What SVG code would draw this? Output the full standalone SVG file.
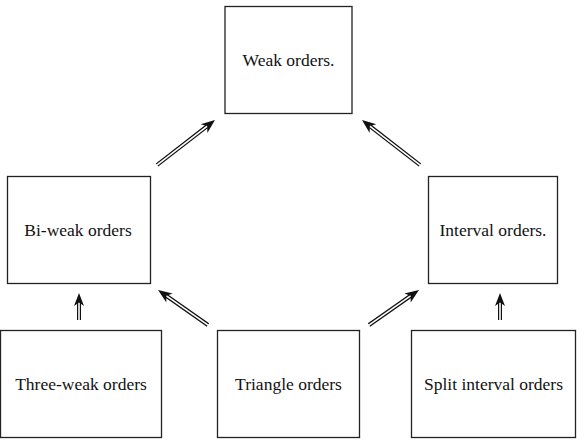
<svg xmlns="http://www.w3.org/2000/svg" width="586" height="445" viewBox="0 0 586 445">
<defs>
<style>
.box{fill:#fff;stroke:#222;stroke-width:1.3}
.lbl{font-size:17.5px;fill:#111;text-anchor:middle}
.sh{stroke:#111;stroke-width:4;fill:none}
.in{stroke:#fff;stroke-width:1.6;fill:none}
.hd{fill:#111}
</style>
</defs>
<rect width="586" height="445" fill="#fff"/>
<g font-family="'Liberation Serif', 'Times New Roman', Times, serif">
<g id="weak"><rect class="box" x="225" y="6.5" width="127" height="107"/><text class="lbl" x="288.5" y="66">Weak orders.</text></g>
<g id="biweak"><rect class="box" x="7.5" y="176.5" width="143" height="107"/><text class="lbl" x="78" y="236">Bi-weak orders</text></g>
<g id="interval"><rect class="box" x="428.5" y="176.5" width="129" height="107"/><text class="lbl" x="493" y="236">Interval orders.</text></g>
<g id="threeweak"><rect class="box" x="0.5" y="330.5" width="161" height="107"/><text class="lbl" x="81" y="390">Three-weak orders</text></g>
<g id="triangle"><rect class="box" x="217.5" y="330.5" width="142" height="107"/><text class="lbl" x="288.5" y="390">Triangle orders</text></g>
<g id="split"><rect class="box" x="411.5" y="330.5" width="164" height="107"/><text class="lbl" x="493.5" y="390">Split interval orders</text></g>
</g>
<g id="connectors">
<g transform="translate(157,165) rotate(-37.8)"><path class="sh" d="M0,0H63"/><path class="in" d="M-1,0H64"/><path class="hd" d="M73.4,0L59.5,-5.5L63.5,0L59.5,5.5Z"/></g>
<g transform="translate(420,165) rotate(-142.2)"><path class="sh" d="M0,0H63"/><path class="in" d="M-1,0H64"/><path class="hd" d="M73.4,0L59.5,-5.5L63.5,0L59.5,5.5Z"/></g>
<g transform="translate(208,325) rotate(-145)"><path class="sh" d="M0,0H51"/><path class="in" d="M-1,0H52"/><path class="hd" d="M61,0L47,-5.5L51,0L47,5.5Z"/></g>
<g transform="translate(369,325) rotate(-35)"><path class="sh" d="M0,0H51"/><path class="in" d="M-1,0H52"/><path class="hd" d="M61,0L47,-5.5L51,0L47,5.5Z"/></g>
<g transform="translate(79,320) rotate(-90)"><path class="sh" d="M0,0H18"/><path class="in" d="M-1,0H19"/><path class="hd" d="M27,0L14,-5L17.5,0L14,5Z"/></g>
<g transform="translate(500,320) rotate(-90)"><path class="sh" d="M0,0H18"/><path class="in" d="M-1,0H19"/><path class="hd" d="M27,0L14,-5L17.5,0L14,5Z"/></g>
</g>
</svg>
